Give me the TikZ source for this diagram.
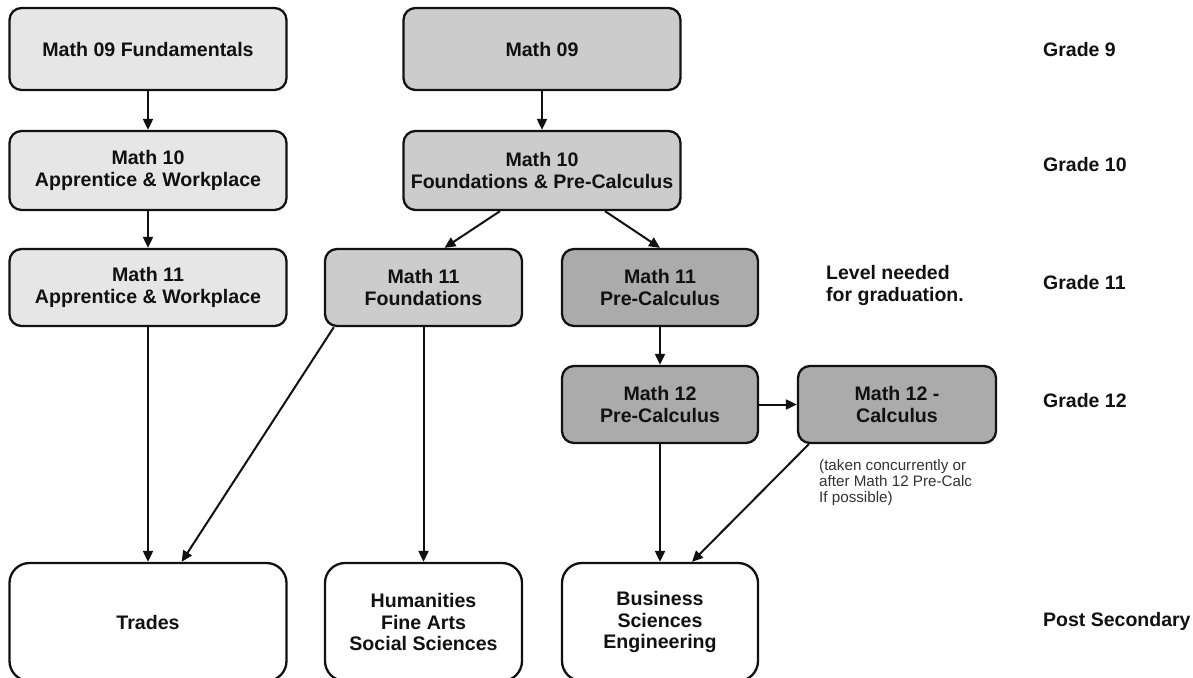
\documentclass[tikz,border=0pt]{standalone}
\usepackage{fontspec}
\setmainfont{Liberation Sans}
\usetikzlibrary{arrows.meta,calc}
\definecolor{lightbox}{HTML}{E6E6E6}
\definecolor{midbox}{HTML}{CCCCCC}
\definecolor{darkbox}{HTML}{ABABAB}
\definecolor{inkc}{HTML}{111111}
\definecolor{notec}{HTML}{333333}
\tikzset{
  box/.style={draw=inkc, line width=2.3pt, rounded corners=12pt, align=center,
    font=\bfseries\fontsize{19.6}{21.5}\selectfont, text=inkc, inner sep=0pt},
  lbox/.style={box, fill=lightbox},
  mbox/.style={box, fill=midbox},
  dbox/.style={box, fill=darkbox},
  endbox/.style={box, fill=white, rounded corners=20pt},
  conn/.style={draw=inkc, line width=2pt, -{Triangle[length=11pt,width=10pt]}},
  lab/.style={anchor=west, font=\bfseries\fontsize{19.5}{22}\selectfont, text=inkc, inner sep=0pt},
  note/.style={anchor=north west, align=left, font=\fontsize{15.2}{16}\selectfont, text=notec, inner sep=0pt}
}
\begin{document}
\begin{tikzpicture}[x=1pt,y=-1pt]
\useasboundingbox (0,0) rectangle (1193,677);
\clip (0,0) rectangle (1193,677);
\fill[white] (0,0) rectangle (1193,677);
% grade 9
\node[lbox, minimum width=277pt, minimum height=82pt] (m09f) at (148,49) {Math 09 Fundamentals};
\node[mbox, minimum width=277pt, minimum height=82pt] (m09) at (542,49) {Math 09};
% grade 10
\node[lbox, minimum width=277pt, minimum height=79pt] (m10aw) at (148,170.5) {Math 10\\Apprentice \& Workplace};
\node[mbox, minimum width=277pt, minimum height=79pt] (m10fpc) at (542,170.5) {Math 10\\Foundations \& Pre-Calculus};
% grade 11
\node[lbox, minimum width=277pt, minimum height=77pt] (m11aw) at (148,287.5) {Math 11\\Apprentice \& Workplace};
\node[mbox, minimum width=197pt, minimum height=77pt] (m11f) at (423.5,287.5) {Math 11\\Foundations};
\node[dbox, minimum width=196pt, minimum height=77pt] (m11pc) at (660,287.5) {Math 11\\Pre-Calculus};
% grade 12
\node[dbox, minimum width=196pt, minimum height=77pt] (m12pc) at (660,404.5) {Math 12\\Pre-Calculus};
\node[dbox, minimum width=198pt, minimum height=77pt] (m12c) at (897,404.5) {Math 12 -\\Calculus};
% post secondary
\node[endbox, minimum width=277pt, minimum height=118pt] (trades) at (148,622) {Trades};
\node[endbox, minimum width=197pt, minimum height=118pt] (hum) at (423.5,622) {Humanities\\Fine Arts\\Social Sciences};
\node[endbox, minimum width=196pt, minimum height=118pt] (bus) at (660,622) {Business\\Sciences\\Engineering};
% labels
\node[lab] (g9) at (1043,50) {Grade 9};
\node[lab] (g10) at (1043,165) {Grade 10};
\node[lab] (g11) at (1043,283) {Grade 11};
\node[lab] (g12) at (1043,401) {Grade 12};
\node[lab] (gps) at (1043,621) {Post Secondary};
\node[lab, align=left] (lvl) at (826,285) {Level needed\\for graduation.};
\node[note] (nt) at (819,459) {(taken concurrently or\\after Math 12 Pre-Calc\\If possible)};
% connectors
\draw[conn] (m09f) -- (m10aw);
\draw[conn] (m09) -- (m10fpc);
\draw[conn] (m10aw) -- (m11aw);
\draw[conn] ($(m10fpc.south)+(-42,0)$) -- ($(m11f.north)+(21,0)$);
\draw[conn] ($(m10fpc.south)+(63,0)$) -- (m11pc.north);
\draw[conn] (m11aw) -- (trades);
\draw[conn] ($(m11f.south west)+(10,0)$) -- ($(trades.north east)+(-106,0)$);
\draw[conn] (m11f.south) -- (hum.north);
\draw[conn] (m11pc) -- (m12pc);
\draw[conn] (m12pc) -- (m12c);
\draw[conn] (m12pc.south) -- (bus.north);
\draw[conn] ($(m12c.south west)+(12,0)$) -- ($(bus.north)+(32,0)$);
\end{tikzpicture}
\end{document}
